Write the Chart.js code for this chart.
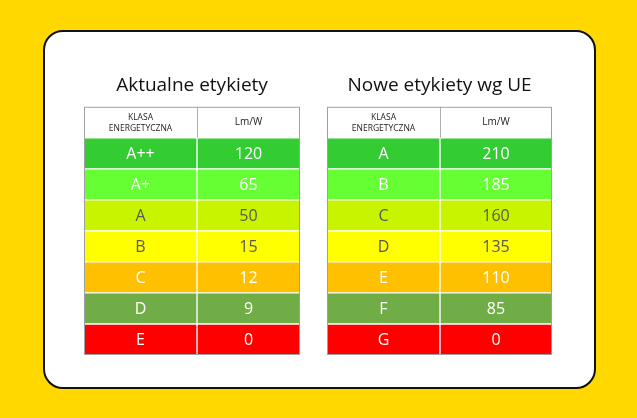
<!DOCTYPE html>
<html>
<head>
<meta charset="utf-8">
<script src="https://cdn.jsdelivr.net/npm/chart.js@4"></script>
<style>
  body { margin: 0; width: 637px; height: 418px; background: #FFD800; position: relative; overflow: hidden; font-family: "Open Sans", sans-serif; }
  .card { position: absolute; left: 43px; top: 30px; width: 549px; height: 355px; background: #fff; border: 2px solid #111; border-radius: 20px; }
  .wrap { position: absolute; }
</style>
</head>
<body>
<div class="card"></div>
<div class="wrap" style="left:84px; top:74px; width:216px; height:281px;"><canvas id="left"></canvas></div>
<div class="wrap" style="left:327px; top:74px; width:225px; height:281px;"><canvas id="right"></canvas></div>
<script>
// dane tabel
const headerClass = ['KLASA', 'ENERGETYCZNA'];
const headerUnit = 'Lm/W';
const oldClasses = ['A++', 'A+', 'A', 'B', 'C', 'D', 'E'];
const oldValues = [120, 65, 50, 15, 12, 9, 0];
const newClasses = ['A', 'B', 'C', 'D', 'E', 'F', 'G'];
const newValues = [210, 185, 160, 135, 110, 85, 0];
const rowColors = ['#33CC33', '#66FF33', '#C8F400', '#FFFF00', '#FFC000', '#70AD47', '#FF0000'];
const textColors = ['#ffffff', '#ffffff', '#595959', '#595959', '#ffffff', '#ffffff', '#ffffff'];

const tableText = {
    id: 'tableText',
    afterDatasetsDraw(chart, args, opts) {
        const c = chart.ctx;
        const a = chart.chartArea;
        c.save();
        c.textAlign = 'center';
        c.textBaseline = 'middle';
        const m0 = chart.getDatasetMeta(0).data;
        const m1 = chart.getDatasetMeta(1).data;
        m0.forEach((bar, i) => {
            const bar2 = m1[i];
            const cx0 = (bar.base + bar.x) / 2;
            const cx1 = (bar2.base + bar2.x) / 2;
            if (i === 0) {
                c.fillStyle = '#222';
                c.font = '8.5px "Open Sans"';
                c.fillText(headerClass[0], cx0, bar.y - 5);
                c.fillText(headerClass[1], cx0, bar.y + 6);
                c.font = '10px "Open Sans"';
                c.fillText(headerUnit, cx1, bar.y);
                // linia w nagłówku
                c.strokeStyle = '#b0b0b0';
                c.lineWidth = 1;
                c.beginPath();
                c.moveTo(bar.x + 0.5, bar.y - bar.height / 2);
                c.lineTo(bar.x + 0.5, bar.y + bar.height / 2);
                c.stroke();
            } else {
                c.fillStyle = textColors[i - 1];
                c.font = '16px "Open Sans"';
                c.fillText(opts.classes[i - 1], cx0, bar.y + 1);
                c.fillText(String(opts.values[i - 1]), cx1, bar.y + 1);
            }
        });
        c.strokeStyle = '#a0a0a0';
        c.lineWidth = 1;
        c.strokeRect(a.left + 0.5, a.top + 0.5, a.right - a.left - 1, a.bottom - a.top - 1);
        c.restore();
    }
};

function makeTable(id, title, classes, values, widths) {
    const labels = ['header'].concat(classes);
    const bg = ['#ffffff'].concat(rowColors);
    new Chart(document.getElementById(id), {
        type: 'bar',
        data: {
            labels: labels,
            datasets: [
                { data: labels.map(() => widths[0]), backgroundColor: bg, borderColor: '#ffffff', borderWidth: { right: 1, top: 1, bottom: 1 }, borderSkipped: false, barPercentage: 1, categoryPercentage: 1 },
                { data: labels.map(() => widths[1]), backgroundColor: bg, borderColor: '#ffffff', borderWidth: { left: 1, top: 1, bottom: 1 }, borderSkipped: false, barPercentage: 1, categoryPercentage: 1 }
            ]
        },
        options: {
            indexAxis: 'y',
            responsive: true,
            maintainAspectRatio: false,
            animation: false,
            layout: { padding: 0 },
            scales: {
                x: { stacked: true, display: false, min: 0, max: widths[0] + widths[1] },
                y: { stacked: true, display: false }
            },
            plugins: {
                legend: { display: false },
                tooltip: { enabled: false },
                title: { display: true, text: title, color: '#111', font: { family: 'Open Sans', size: 19, weight: 'normal' }, padding: { top: 0, bottom: 10 } },
                tableText: { classes: classes, values: values }
            }
        },
        plugins: [tableText]
    });
}

makeTable('left', 'Aktualne etykiety', oldClasses, oldValues, [113, 103]);
makeTable('right', 'Nowe etykiety wg UE', newClasses, newValues, [113, 112]);
</script>
</body>
</html>
